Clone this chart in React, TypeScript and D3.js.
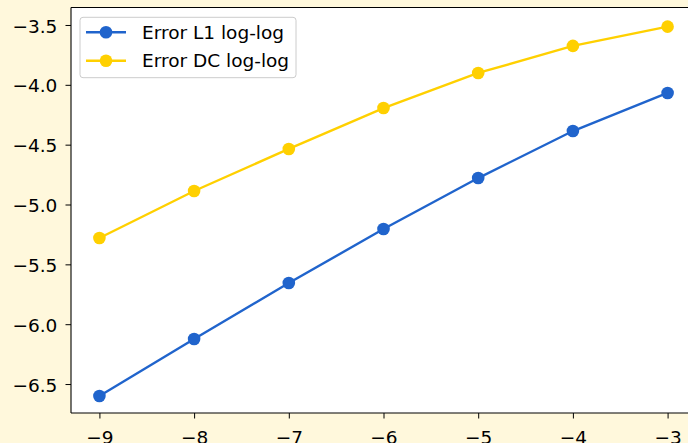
import { useEffect, useRef } from "react";
import * as d3 from "d3";

const W = 688;
const H = 443;
// axes box in px (right edge runs off the picture)
const BOX = { left: 71, top: 7.5, right: 696, bottom: 413 };

const xs = [-9, -8, -7, -6, -5, -4, -3];
const errL1 = [-6.6, -6.124, -5.656, -5.205, -4.779, -4.386, -4.068];
const errDC = [-5.28, -4.887, -4.536, -4.194, -3.901, -3.675, -3.514];
const xTicks = [-9, -8, -7, -6, -5, -4, -3];
const yTicks = [-6.5, -6.0, -5.5, -5.0, -4.5, -4.0, -3.5];

const SERIES = [
  { name: "Error L1 log-log", values: errL1, color: "#2064cc" },
  { name: "Error DC log-log", values: errDC, color: "#ffd000" },
];

const FONT = "'DejaVu Sans', sans-serif";
const FS = 18.5;

const minus = (f: (n: number) => string) => (d: d3.NumberValue) =>
  f(+d).replace("-", "\u2212").replace("\u2212", "\u2212");

export default function App() {
  const xAxisRef = useRef<SVGGElement>(null);
  const yAxisRef = useRef<SVGGElement>(null);

  const xScale = d3.scaleLinear().domain([-9.3, -2.7]).range([BOX.left, BOX.right]);
  const yScale = d3.scaleLinear().domain([-6.742, -3.354]).range([BOX.bottom, BOX.top]);

  const line = d3
    .line<number>()
    .x((_, i) => xScale(xs[i]))
    .y((d) => yScale(d));

  useEffect(() => {
    const gx = d3.select(xAxisRef.current);
    gx.selectAll("*").remove();
    gx.call(
      d3.axisBottom(xScale).tickValues(xTicks).tickSize(5.5).tickPadding(12).tickFormat(minus(d3.format("d")))
    );
    const gy = d3.select(yAxisRef.current);
    gy.selectAll("*").remove();
    gy.call(
      d3.axisLeft(yScale).tickValues(yTicks).tickSize(5.5).tickPadding(8.2).tickFormat(minus(d3.format(".1f")))
    );
    gy.selectAll("text").attr("dy", "0.38em");
    [gx, gy].forEach((g) => {
      g.select(".domain").remove();
      g.selectAll("line").attr("stroke", "#000").attr("stroke-width", 1);
      g.selectAll("text")
        .attr("fill", "#000")
        .style("font-family", FONT)
        .style("font-size", `${FS}px`);
    });
  }, []);

  return (
    <svg
      width={W}
      height={H}
      style={{ position: "absolute", left: 0, top: 0, background: "#fff8dc" }}
    >
      <rect
        x={BOX.left}
        y={BOX.top}
        width={BOX.right - BOX.left}
        height={BOX.bottom - BOX.top}
        fill="#fff"
      />
      {SERIES.map((s) => (
        <g key={s.name}>
          <path d={line(s.values) ?? ""} fill="none" stroke={s.color} strokeWidth={2.4} />
          {s.values.map((v, i) => (
            <circle key={i} cx={xScale(xs[i])} cy={yScale(v)} r={6.3} fill={s.color} />
          ))}
        </g>
      ))}
      {/* spines */}
      <g stroke="#000" strokeWidth={1.1} fill="none">
        <line x1={BOX.left} x2={BOX.left} y1={BOX.top} y2={BOX.bottom} />
        <line x1={BOX.left} x2={BOX.right} y1={BOX.top} y2={BOX.top} />
        <line x1={BOX.left} x2={BOX.right} y1={BOX.bottom} y2={BOX.bottom} />
      </g>
      <g ref={xAxisRef} transform={`translate(0,${BOX.bottom})`} />
      <g ref={yAxisRef} transform={`translate(${BOX.left},0)`} />
      {/* legend */}
      <g transform="translate(80,17.3)">
        <rect width={216} height={60.4} rx={3} fill="#fff" fillOpacity={0.8} stroke="#cccccc" />
        {SERIES.map((s, i) => (
          <g key={s.name} transform={`translate(0,${15 + i * 28.4})`}>
            <line x1={6} x2={46} y1={0} y2={0} stroke={s.color} strokeWidth={2.4} />
            <circle cx={26} cy={0} r={6.3} fill={s.color} />
            <text x={62} y={6.6} fontFamily={FONT} fontSize={FS} fill="#000">
              {s.name}
            </text>
          </g>
        ))}
      </g>
    </svg>
  );
}
